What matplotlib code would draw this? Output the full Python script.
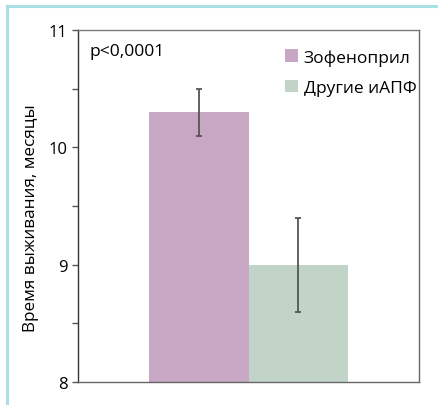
import matplotlib
matplotlib.use('Agg')
import matplotlib.pyplot as plt
from matplotlib.lines import Line2D
from matplotlib.patches import Patch

plt.rcParams['font.family'] = ['Open Sans', 'DejaVu Sans']

groups = ['Зофеноприл', 'Другие иАПФ']
values = [10.3, 9.0]
err_low = [10.1, 8.6]
err_high = [10.5, 9.4]
colors = ['#c8a7c5', '#c2d4c8']

fig = plt.figure(figsize=(4.38, 4.06), dpi=100)
ax = fig.add_axes([0.178, 0.0567, 0.779, 0.867])

x = [0, 1]
base = 8
ax.bar(x, [v - base for v in values], bottom=base, width=1.0, color=colors, linewidth=0)
yerr = [[v - lo for v, lo in zip(values, err_low)], [hi - v for v, hi in zip(values, err_high)]]
ax.errorbar(x, values, yerr=yerr, fmt='none', ecolor='#555555', elinewidth=1.3, capsize=2.3, capthick=1.3)

ax.set_xlim(-1.214, 2.214)
ax.set_ylim(8, 11)
ax.set_yticks([8, 9, 10, 11])
ax.set_yticks([8.5, 9.5, 10.5], minor=True)
ax.set_xticks([])
ax.tick_params(axis='y', which='both', direction='out', length=4.5, width=1, color='#555555', labelsize=12, pad=3)
for s in ax.spines.values():
    s.set_color('#333333')
    s.set_linewidth(1)
ax.spines['right'].set_color('#666666')
ax.spines['bottom'].set_color('#666666')
ax.spines['top'].set_color('#777777')

ax.set_ylabel('Время выживания, месяцы', fontsize=12.3)
ax.yaxis.set_label_coords(-0.115, 0.469)
ax.text(0.035, 0.94, 'p<0,0001', transform=ax.transAxes, fontsize=12.6, va='center', ha='left')

handles = [Patch(facecolor=c, edgecolor='none') for c in colors]
ax.legend(handles, groups, loc='upper left', bbox_to_anchor=(0.56, 0.99), frameon=False,
          fontsize=12.5, handlelength=0.75, handleheight=0.75, handletextpad=0.35, labelspacing=0.8)

# light blue frame on the left and top
fig.add_artist(Line2D([6.5 / 438, 6.5 / 438], [0, 1 - 6.5 / 406], color='#abdfe8', linewidth=2.2))
fig.add_artist(Line2D([6.5 / 438, 437 / 438], [1 - 6.5 / 406, 1 - 6.5 / 406], color='#abdfe8', linewidth=2.2))

fig.savefig('out.png', dpi=100)
